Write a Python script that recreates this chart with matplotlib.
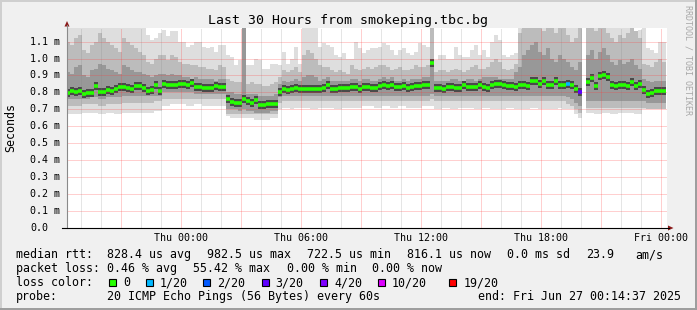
import numpy as np
import matplotlib
matplotlib.use('Agg')
import matplotlib.pyplot as plt
from matplotlib.patches import Polygon, Rectangle
from matplotlib.lines import Line2D

plt.rcParams['font.family'] = 'DejaVu Sans Mono'

nan = np.nan

# ---------------- data ----------------
title = 'Last 30 Hours from smokeping.tbc.bg'
col_start = -5.75      # first 12-minute column, hours relative to Thu 00:00
col_step = 0.2         # 12 minutes

x_ticks = [0, 6, 12, 18, 24]
x_ticklabels = ['Thu 00:00', 'Thu 06:00', 'Thu 12:00', 'Thu 18:00', 'Fri 00:00']
y_ticks = [0.0, 0.1, 0.2, 0.3, 0.4, 0.5, 0.6, 0.7, 0.8, 0.9, 1.0, 1.1]
y_ticklabels = ['0.0', '0.1 m', '0.2 m', '0.3 m', '0.4 m', '0.5 m', '0.6 m',
                '0.7 m', '0.8 m', '0.9 m', '1.0 m', '1.1 m']

# median rtt per column (ms)
median = [
    0.795, 0.81, 0.80, 0.81, 0.79, 0.795, 0.795, 0.84, 0.80, 0.80,
    0.815, 0.81, 0.82, 0.83, 0.83, 0.825, 0.82, 0.84, 0.84, 0.825,
    0.81, 0.815, 0.845, 0.81, 0.85, 0.845, 0.845, 0.845, 0.847, 0.849,
    0.841, 0.855, 0.833, 0.833, 0.825, 0.825, 0.825, 0.837, 0.831, 0.831,
    0.759, 0.745, 0.735, 0.735, 0.762, 0.75, 0.74, 0.755, 0.725, 0.725,
    0.729, 0.73, 0.73, 0.80, 0.818, 0.812, 0.818, 0.827, 0.818, 0.82,
    0.82, 0.82, 0.818, 0.823, 0.827, 0.841, 0.82, 0.82, 0.827, 0.827,
    0.825, 0.829, 0.829, 0.823, 0.833, 0.83, 0.827, 0.827, 0.835, 0.843,
    0.837, 0.845, 0.829, 0.829, 0.837, 0.825, 0.831, 0.837, 0.837, 0.841,
    0.845, 0.976, 0.825, 0.825, 0.823, 0.833, 0.833, 0.825, 0.827, 0.841,
    0.833, 0.831, 0.833, 0.843, 0.833, 0.825, 0.845, 0.847, 0.847, 0.841,
    0.837, 0.837, 0.829, 0.843, 0.845, 0.839, 0.865, 0.867, 0.851, 0.865,
    0.845, 0.843, 0.865, 0.843, 0.845, 0.847, 0.843, 0.82, 0.80, nan,
    0.86, 0.887, 0.837, 0.895, 0.90, 0.89, 0.843, 0.838, 0.845, 0.843,
    0.838, 0.859, 0.838, 0.849, 0.812, 0.79, 0.796, 0.81, 0.81, 0.81,
]

# smoke envelope per column (ms): outer top, mid-gray top, dark top,
# dark bottom, mid-gray bottom, outer bottom
smoke_top = [
    1.18, 1.18, 1.18, 1.18, 1.18, 1.18, 1.18, 1.18, 1.18, 1.18,
    1.18, 1.18, 1.18, 1.18, 1.18, 1.18, 1.18, 1.18, 1.18, 1.18,
    1.14, 1.11, 1.12, 1.15, 1.17, 1.13, 1.16, 1.16, 1.10, 1.10,
    1.07, 1.08, 1.10, 1.10, 1.07, 1.06, 1.07, 1.04, 1.08, 1.08,
    1.02, 1.01, 0.96, 0.99, 1.18, 0.96, 0.96, 1.00, 0.99, 0.94,
    0.94, 0.97, 0.97, 0.96, 1.04, 0.97, 1.00, 1.07, 0.97, 1.18,
    1.18, 1.18, 1.18, 1.07, 1.09, 1.08, 1.07, 1.02, 1.01, 1.03,
    1.00, 1.00, 1.10, 1.06, 1.03, 1.05, 1.06, 1.06, 1.07, 1.09,
    1.08, 1.05, 1.02, 1.05, 1.06, 1.03, 1.02, 1.04, 1.09, 1.08,
    1.07, 1.18, 0.99, 1.02, 1.02, 1.00, 1.00, 1.07, 1.02, 1.01,
    1.01, 1.05, 1.08, 1.02, 1.05, 1.01, 1.10, 1.14, 1.11, 1.02,
    1.01, 1.02, 1.03, 1.18, 1.18, 1.18, 1.18, 1.18, 1.18, 1.18,
    1.18, 1.18, 1.18, 1.18, 1.18, 1.18, 1.18, 1.18, 1.18, nan,
    1.18, 1.18, 1.18, 1.18, 1.18, 1.18, 1.18, 1.18, 1.18, 1.18,
    1.18, 1.18, 1.16, 1.17, 1.18, 1.06, 1.05, 1.03, 1.10, 1.10,
]
smoke_up2 = [
    1.10, 1.08, 1.12, 1.14, 1.05, 1.03, 1.08, 1.10, 1.15, 1.12,
    1.10, 1.08, 1.06, 1.04, 1.12, 1.10, 1.08, 1.06, 1.04, 1.02,
    0.98, 0.97, 1.00, 1.02, 1.02, 0.99, 1.02, 1.01, 0.98, 0.97,
    0.97, 0.96, 0.96, 0.95, 0.95, 0.94, 0.94, 0.93, 0.96, 0.95,
    0.88, 0.87, 0.86, 0.86, 1.18, 0.85, 0.86, 0.85, 0.85, 0.84,
    0.84, 0.85, 0.86, 0.89, 0.93, 0.92, 0.93, 0.95, 0.92, 1.02,
    1.05, 1.03, 1.00, 0.96, 0.95, 0.95, 0.93, 0.92, 0.93, 0.92,
    0.91, 0.96, 0.94, 0.93, 0.94, 0.95, 0.94, 0.95, 0.96, 0.96,
    0.95, 0.93, 0.94, 0.95, 0.93, 0.93, 0.94, 0.96, 0.95, 0.95,
    0.96, 1.18, 0.92, 0.93, 0.93, 0.92, 0.93, 0.94, 0.93, 0.92,
    0.93, 0.95, 0.96, 0.94, 0.94, 0.95, 0.98, 1.00, 0.98, 0.94,
    0.93, 0.94, 0.97, 1.15, 1.18, 1.18, 1.18, 1.18, 1.18, 1.16,
    1.18, 1.18, 1.15, 1.18, 1.18, 1.14, 1.10, 1.12, 1.18, nan,
    1.18, 1.18, 1.16, 1.18, 1.18, 1.15, 1.12, 1.10, 1.14, 1.12,
    1.15, 1.18, 1.16, 1.12, 0.97, 0.96, 0.95, 0.98, 1.00, 0.98,
]
smoke_up1 = [
    0.92, 0.91, 0.95, 0.96, 0.90, 0.89, 0.93, 0.94, 0.97, 0.96,
    0.94, 0.93, 0.92, 0.91, 0.96, 0.95, 0.93, 0.92, 0.92, 0.91,
    0.90, 0.89, 0.90, 0.91, 0.91, 0.90, 0.91, 0.90, 0.90, 0.89,
    0.89, 0.88, 0.89, 0.88, 0.88, 0.88, 0.88, 0.87, 0.88, 0.88,
    0.80, 0.80, 0.79, 0.79, 1.18, 0.79, 0.79, 0.79, 0.78, 0.78,
    0.78, 0.78, 0.79, 0.85, 0.87, 0.86, 0.87, 0.88, 0.87, 0.89,
    0.90, 0.90, 0.89, 0.87, 0.88, 0.89, 0.87, 0.87, 0.87, 0.87,
    0.87, 0.88, 0.88, 0.87, 0.88, 0.88, 0.87, 0.87, 0.88, 0.89,
    0.88, 0.89, 0.87, 0.87, 0.88, 0.87, 0.88, 0.88, 0.88, 0.89,
    0.89, 0.99, 0.87, 0.87, 0.87, 0.87, 0.88, 0.88, 0.87, 0.87,
    0.88, 0.88, 0.87, 0.88, 0.89, 0.89, 0.89, 0.89, 0.88, 0.88,
    0.88, 0.88, 0.92, 0.95, 1.02, 1.05, 1.08, 1.10, 1.04, 1.02,
    1.06, 1.00, 0.98, 1.02, 1.00, 0.98, 0.95, 0.93, 0.98, nan,
    1.02, 1.05, 1.00, 1.04, 1.06, 1.02, 0.98, 0.96, 0.99, 0.97,
    0.98, 1.00, 0.96, 0.94, 0.88, 0.87, 0.86, 0.87, 0.87, 0.87,
]
smoke_dn1 = [
    0.76, 0.76, 0.76, 0.76, 0.76, 0.76, 0.77, 0.77, 0.76, 0.76,
    0.77, 0.77, 0.77, 0.77, 0.78, 0.78, 0.78, 0.78, 0.78, 0.78,
    0.78, 0.78, 0.78, 0.78, 0.80, 0.80, 0.80, 0.80, 0.80, 0.80,
    0.80, 0.80, 0.79, 0.79, 0.79, 0.79, 0.79, 0.79, 0.79, 0.79,
    0.70, 0.70, 0.70, 0.69, 0.70, 0.69, 0.69, 0.68, 0.68, 0.68,
    0.68, 0.69, 0.69, 0.77, 0.78, 0.78, 0.78, 0.78, 0.78, 0.78,
    0.78, 0.78, 0.78, 0.78, 0.78, 0.78, 0.78, 0.78, 0.78, 0.78,
    0.78, 0.78, 0.78, 0.78, 0.78, 0.78, 0.78, 0.78, 0.78, 0.78,
    0.78, 0.78, 0.78, 0.78, 0.78, 0.78, 0.78, 0.78, 0.78, 0.78,
    0.78, 0.79, 0.78, 0.78, 0.78, 0.78, 0.78, 0.78, 0.78, 0.78,
    0.78, 0.78, 0.78, 0.78, 0.78, 0.78, 0.78, 0.78, 0.78, 0.78,
    0.78, 0.78, 0.78, 0.78, 0.78, 0.78, 0.78, 0.78, 0.78, 0.78,
    0.78, 0.78, 0.78, 0.78, 0.78, 0.77, 0.76, 0.74, 0.72, nan,
    0.75, 0.75, 0.75, 0.75, 0.75, 0.75, 0.75, 0.75, 0.75, 0.75,
    0.75, 0.75, 0.75, 0.75, 0.75, 0.74, 0.74, 0.74, 0.74, 0.74,
]
smoke_dn2 = [
    0.72, 0.72, 0.72, 0.72, 0.73, 0.73, 0.73, 0.73, 0.72, 0.72,
    0.73, 0.73, 0.73, 0.73, 0.74, 0.74, 0.74, 0.74, 0.74, 0.74,
    0.74, 0.74, 0.75, 0.75, 0.76, 0.76, 0.76, 0.76, 0.76, 0.76,
    0.76, 0.76, 0.76, 0.76, 0.76, 0.76, 0.76, 0.76, 0.76, 0.76,
    0.67, 0.67, 0.67, 0.67, 0.67, 0.67, 0.67, 0.67, 0.67, 0.67,
    0.67, 0.67, 0.67, 0.74, 0.75, 0.75, 0.75, 0.75, 0.75, 0.75,
    0.75, 0.75, 0.75, 0.75, 0.75, 0.75, 0.75, 0.75, 0.75, 0.75,
    0.75, 0.75, 0.75, 0.75, 0.75, 0.75, 0.75, 0.75, 0.75, 0.75,
    0.75, 0.75, 0.75, 0.75, 0.75, 0.75, 0.75, 0.75, 0.75, 0.75,
    0.75, 0.76, 0.75, 0.75, 0.75, 0.75, 0.75, 0.75, 0.75, 0.75,
    0.75, 0.75, 0.75, 0.75, 0.75, 0.75, 0.75, 0.75, 0.75, 0.75,
    0.75, 0.75, 0.75, 0.75, 0.75, 0.75, 0.75, 0.75, 0.75, 0.75,
    0.75, 0.75, 0.75, 0.75, 0.75, 0.73, 0.72, 0.70, 0.68, nan,
    0.71, 0.71, 0.71, 0.71, 0.71, 0.71, 0.71, 0.71, 0.71, 0.71,
    0.71, 0.71, 0.71, 0.71, 0.71, 0.70, 0.70, 0.70, 0.70, 0.70,
]
smoke_bot = [
    0.67, 0.67, 0.67, 0.67, 0.68, 0.68, 0.68, 0.68, 0.67, 0.67,
    0.68, 0.68, 0.67, 0.67, 0.68, 0.68, 0.68, 0.68, 0.68, 0.68,
    0.68, 0.68, 0.69, 0.69, 0.72, 0.72, 0.73, 0.73, 0.73, 0.73,
    0.72, 0.72, 0.73, 0.73, 0.72, 0.72, 0.72, 0.72, 0.72, 0.72,
    0.66, 0.65, 0.65, 0.65, 0.65, 0.65, 0.65, 0.64, 0.64, 0.64,
    0.64, 0.65, 0.65, 0.70, 0.71, 0.71, 0.70, 0.71, 0.71, 0.71,
    0.71, 0.70, 0.70, 0.71, 0.71, 0.71, 0.71, 0.70, 0.70, 0.71,
    0.71, 0.71, 0.71, 0.71, 0.72, 0.72, 0.72, 0.71, 0.71, 0.72,
    0.72, 0.71, 0.71, 0.72, 0.72, 0.71, 0.71, 0.71, 0.71, 0.72,
    0.72, 0.72, 0.70, 0.70, 0.71, 0.71, 0.70, 0.70, 0.71, 0.71,
    0.71, 0.71, 0.70, 0.70, 0.71, 0.71, 0.70, 0.70, 0.70, 0.70,
    0.71, 0.71, 0.70, 0.70, 0.70, 0.70, 0.71, 0.71, 0.70, 0.70,
    0.70, 0.70, 0.70, 0.71, 0.70, 0.70, 0.70, 0.67, 0.65, nan,
    0.68, 0.68, 0.67, 0.67, 0.68, 0.68, 0.67, 0.67, 0.68, 0.68,
    0.68, 0.68, 0.67, 0.67, 0.70, 0.70, 0.70, 0.70, 0.71, 0.71,
]

# columns with packet loss (column index, pings lost out of 20)
loss_cols = [125, 128]
loss_counts = [1, 3]

loss_levels = [0, 1, 2, 3, 4, 10, 19]
loss_labels = ['0', '1/20', '2/20', '3/20', '4/20', '10/20', '19/20']
loss_colors = ['#26ff00', '#00b8ff', '#0059ff', '#5e00ff', '#7e00ff', '#dd00ff', '#ff0000']

legend_rtt = [('median rtt:', 16), ('828.4 us avg', 107.3), ('982.5 us max', 207.3),
              ('722.5 us min', 307.3), ('816.1 us now', 407.3), ('0.0 ms sd', 507.3),
              ('23.9', 586.3), ('am/s', 635)]
legend_loss = [('packet loss:', 16), ('0.46 % avg', 107.3), ('55.42 % max', 193),
               ('0.00 % min', 286.7), ('0.00 % now', 371.7)]
legend_probe = [('probe:', 16), ('20 ICMP Echo Pings (56 Bytes) every 60s', 107.3),
                ('end: Fri Jun 27 00:14:37 2025', 478.3)]
loss_box_x = [109, 145.7, 203.3, 261.7, 320, 377.7, 449.3]

# ---------------- figure ----------------
W, H = 697, 310
XLIM = (-5.7, 24.3)
YLIM = (0, 1.18)
fig = plt.figure(figsize=(W / 100, H / 100), dpi=100, facecolor='#f0f0f0')


def fx(x):
    return x / W


def fy(y):
    return 1 - y / H


ax = fig.add_axes([fx(67), fy(228), 600 / W, 200 / H])
ax.set_facecolor('white')
ax.set_xlim(*XLIM)
ax.set_ylim(*YLIM)
for s in ax.spines.values():
    s.set_visible(False)
ax.set_xticks([])
ax.set_yticks([])

n = len(median)
left = col_start + col_step * np.arange(n)
med = np.array(median)
top = np.array(smoke_top)
up2 = np.array(smoke_up2)
up1 = np.array(smoke_up1)
dn1 = np.array(smoke_dn1)
dn2 = np.array(smoke_dn2)
bot = np.array(smoke_bot)

# smoke layers
ax.bar(left, top - bot, bottom=bot, width=col_step, align='edge',
       color='#dedede', linewidth=0, antialiased=False, zorder=1)
ax.bar(left, up2 - dn2, bottom=dn2, width=col_step, align='edge',
       color='#bcbcbc', linewidth=0, antialiased=False, zorder=1.2)
ax.bar(left, up1 - dn1, bottom=dn1, width=col_step, align='edge',
       color='#989898', linewidth=0, antialiased=False, zorder=1.4)
ax.hlines(med, left, left + col_step, colors='#4a4a4a', linewidth=8 * 0.72,
          zorder=1.6, capstyle='butt')

# dotted grid
red_grid = (1.0, 0.25, 0.25, 0.5)
gray_grid = (0.5, 0.5, 0.5, 0.4)
for v in y_ticks[1:]:
    ax.axhline(v, color=red_grid, linewidth=0.72, linestyle=(0, (1, 1)), zorder=3)
for h in range(-5, 25):
    c = red_grid if h % 3 == 0 else gray_grid
    ax.axvline(h, color=c, linewidth=0.72, linestyle=(0, (1, 1)), zorder=3)

# median coloured by loss
med_colors = [loss_colors[0]] * n
for idx, cnt in zip(loss_cols, loss_counts):
    lvl = max(i for i, l in enumerate(loss_levels) if l <= cnt)
    med_colors[idx] = loss_colors[lvl]
ax.hlines(med, left, left + col_step, colors=med_colors, linewidth=3.6 * 0.72,
          zorder=5, capstyle='butt')

# tick labels
for v, lab in zip(y_ticks, y_ticklabels):
    ax.annotate(lab, xy=(0, v), xycoords=('axes fraction', 'data'),
                xytext=(-37, 0), textcoords='offset pixels',
                ha='left', va='center', fontsize=7.2, color='#000000')
for h, lab in zip(x_ticks, x_ticklabels):
    ax.annotate(lab, xy=(h, 0), xycoords=('data', 'axes fraction'),
                xytext=(0, -12.7), textcoords='offset pixels',
                ha='center', va='baseline', fontsize=7.2, color='#000000')

# axes lines and arrows
fig.add_artist(Line2D([fx(67), fx(67)], [fy(228), fy(25)], color='#8a8a8a', lw=0.8))
fig.add_artist(Line2D([fx(62), fx(669)], [fy(228), fy(228)], color='#000000', lw=0.8))
fig.add_artist(Polygon([(fx(64.5), fy(26.5)), (fx(69.5), fy(26.5)), (fx(67), fy(21))],
                       closed=True, color='#8b1a1a', lw=0))
fig.add_artist(Polygon([(fx(668), fy(225.5)), (fx(668), fy(230.5)), (fx(673.5), fy(228))],
                       closed=True, color='#8b1a1a', lw=0))

# title, axis label, watermark
fig.text(fx(348), fy(24), title, ha='center', va='baseline', fontsize=9.5)
fig.text(fx(11), fy(127.5), 'Seconds', rotation=90, ha='center', va='center', fontsize=8.4)
fig.text(fx(688), fy(60), 'RRDTOOL / TOBI OETIKER', rotation=270, ha='center',
         va='center', fontsize=6.0, color='#a8a8a8')

# legend
fs = 8.4
for s, x in legend_rtt:
    fig.text(fx(x), fy(258.3), s, va='baseline', fontsize=fs)
for s, x in legend_loss:
    fig.text(fx(x), fy(272.3), s, va='baseline', fontsize=fs)
fig.text(fx(16), fy(286), 'loss color:', va='baseline', fontsize=fs)
for bx, lab, col in zip(loss_box_x, loss_labels, loss_colors):
    fig.add_artist(Rectangle((fx(bx), fy(286)), 7 / W, 7.5 / H, facecolor=col,
                             edgecolor='#000000', lw=0.8))
    fig.text(fx(bx + 14), fy(286), lab, va='baseline', fontsize=fs)
for s, x in legend_probe:
    fig.text(fx(x), fy(300), s, va='baseline', fontsize=fs)

# frame shading
fig.add_artist(Rectangle((0, fy(2)), 1, 2 / H, color='#cfcfcf', lw=0))
fig.add_artist(Rectangle((0, 0), 2 / W, 1, color='#cfcfcf', lw=0))
fig.add_artist(Rectangle((0, 0), 1, 2 / H, color='#9e9e9e', lw=0))
fig.add_artist(Rectangle((fx(695), 0), 2 / W, 1, color='#9e9e9e', lw=0))

fig.savefig('out.png', dpi=100, facecolor=fig.get_facecolor())
